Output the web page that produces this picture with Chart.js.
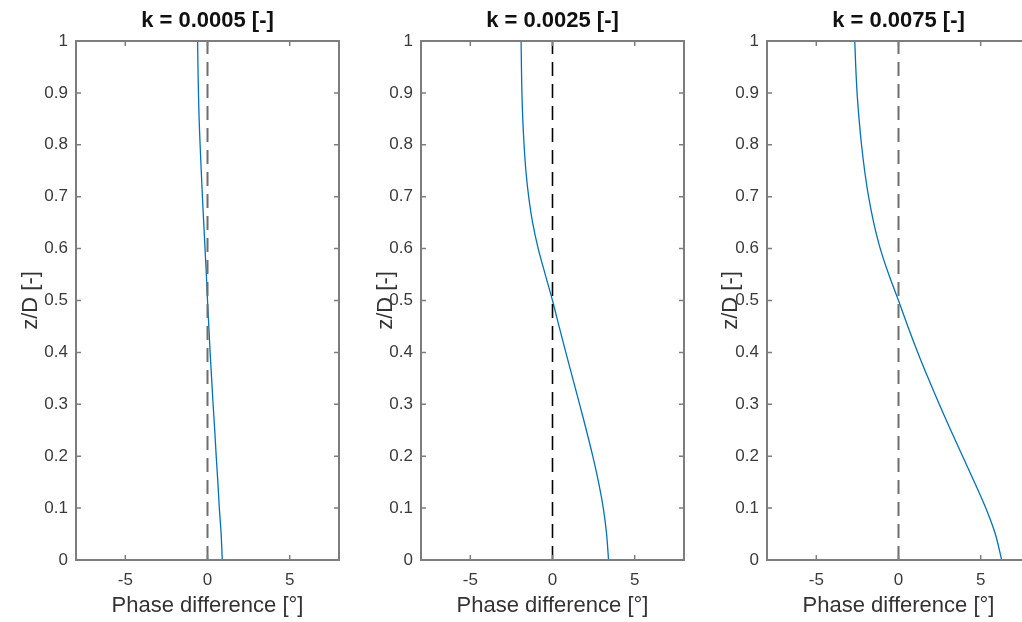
<!DOCTYPE html>
<html>
<head>
<meta charset="utf-8">
<script src="https://cdn.jsdelivr.net/npm/chart.js@4"></script>
<style>
  html, body { margin: 0; padding: 0; width: 1022px; height: 622px; overflow: hidden; background: #fff; }
  canvas { position: absolute; top: 0; }
</style>
</head>
<body>
<canvas id="c1"></canvas>
<canvas id="c2"></canvas>
<canvas id="c3"></canvas>
<script>
// z/D positions (bottom to top)
const zValues = [0, 0.05, 0.1, 0.15, 0.2, 0.25, 0.3, 0.35, 0.4, 0.45, 0.5,
                 0.55, 0.6, 0.65, 0.7, 0.75, 0.8, 0.85, 0.9, 0.95, 1];

// phase difference [deg]
const phaseK0005 = [0.90, 0.83, 0.72, 0.63, 0.53, 0.44, 0.34, 0.25, 0.16, 0.08, 0.0,
                    -0.07, -0.15, -0.23, -0.31, -0.38, -0.45, -0.51, -0.55, -0.58, -0.60];
const phaseK0025 = [3.41, 3.29, 3.09, 2.80, 2.45, 2.06, 1.65, 1.23, 0.81, 0.40, 0.0,
                    -0.44, -0.87, -1.21, -1.45, -1.62, -1.73, -1.81, -1.86, -1.89, -1.91];
const phaseK0075 = [6.28, 5.89, 5.31, 4.62, 3.90, 3.18, 2.48, 1.81, 1.17, 0.57, 0.0,
                    -0.59, -1.11, -1.51, -1.82, -2.06, -2.25, -2.40, -2.52, -2.60, -2.66];

const panelTitles = ['k = 0.0005 [-]', 'k = 0.0025 [-]', 'k = 0.0075 [-]'];
const xTicks = [-5, 0, 5];
const yTicks = [0, 0.1, 0.2, 0.3, 0.4, 0.5, 0.6, 0.7, 0.8, 0.9, 1];

Chart.defaults.font.family = '"Liberation Sans", Arial, Helvetica, sans-serif';

// matlab style box with inward ticks on all four sides
const matlabBox = {
  id: 'matlabBox',
  afterDraw(chart) {
    const ctx = chart.ctx;
    const a = chart.chartArea;
    const x = chart.scales.x, y = chart.scales.y;
    ctx.save();
    ctx.strokeStyle = '#7d7d7d';
    ctx.lineWidth = 1.5;
    ctx.beginPath();
    xTicks.forEach(v => {
      const px = x.getPixelForValue(v);
      ctx.moveTo(px, a.bottom); ctx.lineTo(px, a.bottom - 5);
      ctx.moveTo(px, a.top); ctx.lineTo(px, a.top + 5);
    });
    yTicks.forEach(v => {
      const py = y.getPixelForValue(v);
      ctx.moveTo(a.left, py); ctx.lineTo(a.left + 5, py);
      ctx.moveTo(a.right, py); ctx.lineTo(a.right - 5, py);
    });
    ctx.stroke();
    ctx.lineWidth = 2;
    ctx.strokeRect(a.left, a.top, a.right - a.left, a.bottom - a.top);
    ctx.restore();
  }
};

function makePanel(id, left, title, phase, refColor, refWidth, ylabelPad) {
  const canvas = document.getElementById(id);
  canvas.width = 345;
  canvas.height = 622;
  canvas.style.left = left + 'px';

  return new Chart(canvas, {
    type: 'scatter',
    data: {
      datasets: [
        {
          data: [{x: 0, y: 0}, {x: 0, y: 1}],
          showLine: true,
          borderColor: refColor,
          borderWidth: refWidth,
          borderDash: [14, 8],
          pointRadius: 0
        },
        {
          data: zValues.map((z, i) => ({x: phase[i], y: z})),
          showLine: true,
          borderColor: '#0072BD',
          borderWidth: 1.3,
          pointRadius: 0,
          tension: 0.3
        }
      ]
    },
    options: {
      responsive: false,
      animation: false,
      layout: {padding: {left: 0, right: 6, top: 0, bottom: 0}},
      plugins: {
        legend: {display: false},
        tooltip: {enabled: false},
        title: {
          display: true,
          text: title,
          fullSize: false,
          color: '#111',
          font: {size: 22, weight: 'bold', lineHeight: 1},
          padding: {top: 9.5, bottom: 9.5}
        }
      },
      scales: {
        x: {
          type: 'linear',
          min: -8,
          max: 8,
          grid: {display: false, drawTicks: false},
          border: {display: false},
          afterBuildTicks: s => { s.ticks = xTicks.map(v => ({value: v})); },
          afterFit: s => { s.height = 62; },
          ticks: {padding: 10, color: '#3a3a3a', font: {size: 17}, callback: v => String(v)},
          title: {
            display: true,
            text: 'Phase difference [°]',
            color: '#333',
            font: {size: 22, lineHeight: 1},
            padding: {top: 0, bottom: 5}
          }
        },
        y: {
          type: 'linear',
          min: 0,
          max: 1,
          grid: {display: false, drawTicks: false},
          border: {display: false},
          afterBuildTicks: s => { s.ticks = yTicks.map(v => ({value: v})); },
          afterFit: s => { s.width = 76; },
          ticks: {padding: 8, color: '#3a3a3a', font: {size: 17}, callback: v => String(v)},
          title: {
            display: true,
            text: 'z/D [-]',
            color: '#333',
            font: {size: 22, lineHeight: 1},
            padding: {top: ylabelPad, bottom: 0}
          }
        }
      }
    },
    plugins: [matlabBox]
  });
}

makePanel('c1', 0, panelTitles[0], phaseK0005, '#6e6e6e', 2, 20);
makePanel('c2', 345, panelTitles[1], phaseK0025, '#000000', 1.6, 30);
makePanel('c3', 691, panelTitles[2], phaseK0075, '#6e6e6e', 2, 29);
</script>
</body>
</html>
